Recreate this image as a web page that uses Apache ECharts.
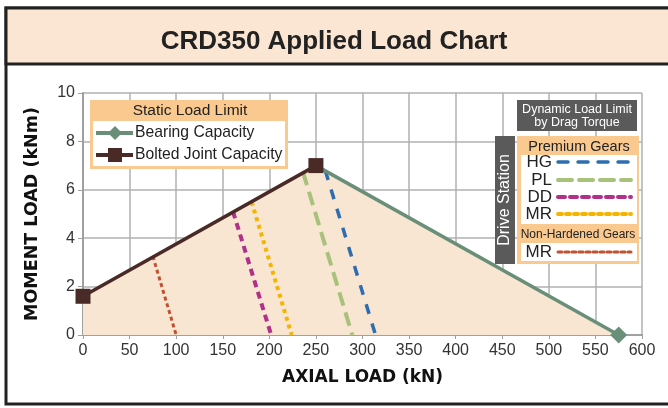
<!DOCTYPE html>
<html><head><meta charset="utf-8">
<script src="https://cdn.jsdelivr.net/npm/echarts@6/dist/echarts.min.js"></script>
<style>html,body{margin:0;padding:0;background:#fff}#c{width:668px;height:408px}</style>
</head><body><div id="c"></div>
<script>
// ---- data ----
const xTicks = [0,50,100,150,200,250,300,350,400,450,500,550,600];
const yTicks = [0,2,4,6,8,10];
const boltedX = [0, 250];
const boltedY = [1.6, 7.0];
const bearingX = [250, 575];
const bearingY = [7.0, 0];
const hgX = [260, 314];   const hgY = [6.8, 0];
const plX = [236, 289];   const plY = [6.75, 0];
const ddX = [161, 202];   const ddY = [5.1, 0];
const mrX = [181, 224];   const mrY = [5.5, 0];
const mrNhX = [75, 100];  const mrNhY = [3.25, 0];

const zip = (xs, ys) => xs.map((x, i) => [x, ys[i]]);
const chart = echarts.init(document.getElementById('c'));
const font = 'Liberation Sans, Arial, Helvetica, sans-serif';
const boldFont = 'DejaVu Sans, Liberation Sans, sans-serif';

function limitSeries(name, xs, ys, color, width, dash){
  return {name, type:'line', data: zip(xs, ys), symbol:'none', clip:false, z:4,
    lineStyle:{color, width, type:dash, cap:'butt'}};
}

const areaData = zip(boltedX, boltedY).concat(zip(bearingX.slice(1), bearingY.slice(1)));

const G = [];
// frame & title band
G.push({type:'rect', shape:{x:6,y:8,width:670,height:396}, style:{fill:'#fff', stroke:'#222', lineWidth:3}, z:-10});
G.push({type:'rect', shape:{x:6,y:8,width:670,height:56}, style:{fill:'#fbe5d3', stroke:'#222', lineWidth:3}, z:-9});
// static legend
G.push({type:'rect', shape:{x:90,y:100,width:198,height:69}, style:{fill:'#f9c98f'}, z:20});
G.push({type:'rect', shape:{x:93,y:121,width:192,height:45}, style:{fill:'#fff'}, z:21});
G.push({type:'text', x:190, y:111, style:{text:'Static Load Limit', font:'15.5px '+font, fill:'#222', align:'center', verticalAlign:'middle'}, z:22});
G.push({type:'line', shape:{x1:96,y1:133,x2:133,y2:133}, style:{stroke:'#6a8f78', lineWidth:4}, z:22});
G.push({type:'polygon', shape:{points:[[115,126],[122,133],[115,140],[108,133]]}, style:{fill:'#6a8f78'}, z:22});
G.push({type:'text', x:135, y:133, style:{text:'Bearing Capacity', font:'15.7px '+font, fill:'#222', verticalAlign:'middle'}, z:22});
G.push({type:'line', shape:{x1:96,y1:155,x2:133,y2:155}, style:{stroke:'#4a2a26', lineWidth:4}, z:22});
G.push({type:'rect', shape:{x:108,y:148,width:14,height:14}, style:{fill:'#4a2a26'}, z:22});
G.push({type:'text', x:135, y:155, style:{text:'Bolted Joint Capacity', font:'15.7px '+font, fill:'#222', verticalAlign:'middle'}, z:22});
// dynamic legend
G.push({type:'rect', shape:{x:517,y:100,width:120,height:31}, style:{fill:'#5a5a5a'}, z:20});
G.push({type:'text', x:577, y:116, style:{text:'Dynamic Load Limit\nby Drag Torque', font:'12.5px '+font, fill:'#fff', align:'center', verticalAlign:'middle', lineHeight:13}, z:22});
G.push({type:'rect', shape:{x:495,y:136,width:20,height:128}, style:{fill:'#5a5a5a'}, z:20});
G.push({type:'text', x:505, y:200, rotation:Math.PI/2, style:{text:'Drive Station', font:'16px '+font, fill:'#fff', align:'center', verticalAlign:'middle'}, z:22});
G.push({type:'rect', shape:{x:517,y:136,width:122,height:128}, style:{fill:'#f9c98f'}, z:20});
G.push({type:'text', x:579, y:147, style:{text:'Premium Gears', font:'14.5px '+font, fill:'#222', align:'center', verticalAlign:'middle'}, z:22});
G.push({type:'rect', shape:{x:521,y:155,width:116,height:69}, style:{fill:'#fff'}, z:21});
G.push({type:'text', x:578, y:235, style:{text:'Non-Hardened Gears', font:'12px '+font, fill:'#222', align:'center', verticalAlign:'middle'}, z:22});
G.push({type:'rect', shape:{x:521,y:243,width:116,height:18}, style:{fill:'#fff'}, z:21});
const dynEntries = [
  ['HG', 162, '#2e6db0', 3.5, [10,10]],
  ['PL', 180, '#a9c27b', 4, [14,7]],
  ['DD', 197, '#b0308a', 4, [7,5]],
  ['MR', 214, '#f4b400', 4, [4,4]],
  ['MR', 252, '#c0522f', 3, [4,3]]
];
dynEntries.forEach(e => {
  G.push({type:'text', x:552, y:e[1], style:{text:e[0], font:'17px '+font, fill:'#222', align:'right', verticalAlign:'middle'}, z:22});
  G.push({type:'line', shape:{x1:558,y1:e[1],x2:631,y2:e[1]}, style:{stroke:e[2], lineWidth:e[3], lineDash:e[4], lineCap:'round'}, z:22});
});

chart.setOption({
  animation:false,
  title:{text:'CRD350 Applied Load Chart', left:'center', top:24,
    textStyle:{fontFamily:font, fontWeight:'bold', fontSize:26, color:'#222'}},
  grid:{left:83, right:26, top:93, bottom:73},
  xAxis:{type:'value', min:0, max:600, interval:50,
    name:'AXIAL LOAD (kN)', nameLocation:'middle', nameGap:34,
    nameTextStyle:{fontFamily:boldFont, fontWeight:'bold', fontSize:17, color:'#111'},
    axisLine:{lineStyle:{color:'#a0a0a0', width:2}},
    axisTick:{show:true, length:4, lineStyle:{color:'#a0a0a0'}},
    axisLabel:{fontFamily:font, fontSize:16, color:'#333', margin:8},
    splitLine:{lineStyle:{color:'#b0b0b0', width:1.5}}},
  yAxis:{type:'value', min:0, max:10, interval:2,
    name:'MOMENT LOAD (kNm)', nameLocation:'middle', nameGap:42, nameRotate:90,
    nameTextStyle:{fontFamily:boldFont, fontWeight:'bold', fontSize:17.5, color:'#111'},
    axisLine:{show:true, lineStyle:{color:'#a0a0a0', width:2}},
    axisTick:{show:true, length:5, lineStyle:{color:'#a0a0a0'}},
    axisLabel:{fontFamily:font, fontSize:16, color:'#333', margin:8},
    splitLine:{lineStyle:{color:'#b0b0b0', width:1.5}}},
  graphic:G,
  series:[
    {name:'area', type:'line', data:areaData, symbol:'none', z:1,
      lineStyle:{width:0}, areaStyle:{color:'#f8e6d2', opacity:1}},
    limitSeries('MR NH', mrNhX, mrNhY, '#c0522f', 3, [4,3]),
    limitSeries('DD', ddX, ddY, '#b0308a', 4, [7,5]),
    limitSeries('MR', mrX, mrY, '#f4b400', 4, [4,4]),
    limitSeries('PL', plX, plY, '#a9c27b', 4, [14,7]),
    limitSeries('HG', hgX, hgY, '#2e6db0', 3.5, [10,10]),
    {name:'Bearing Capacity', type:'line', clip:false, z:5,
      data: zip(bearingX, bearingY).map((p,i)=> i===0 ? {value:p, symbol:'none'} : {value:p}),
      symbol:'diamond', symbolSize:17, itemStyle:{color:'#6a8f78'},
      lineStyle:{color:'#6a8f78', width:3.5}},
    {name:'Bolted Joint Capacity', type:'line', clip:false, z:6,
      data: zip(boltedX, boltedY), symbol:'rect', symbolSize:15,
      itemStyle:{color:'#4a2a26'}, lineStyle:{color:'#4a2a26', width:3.5}}
  ]
});
</script></body></html>
